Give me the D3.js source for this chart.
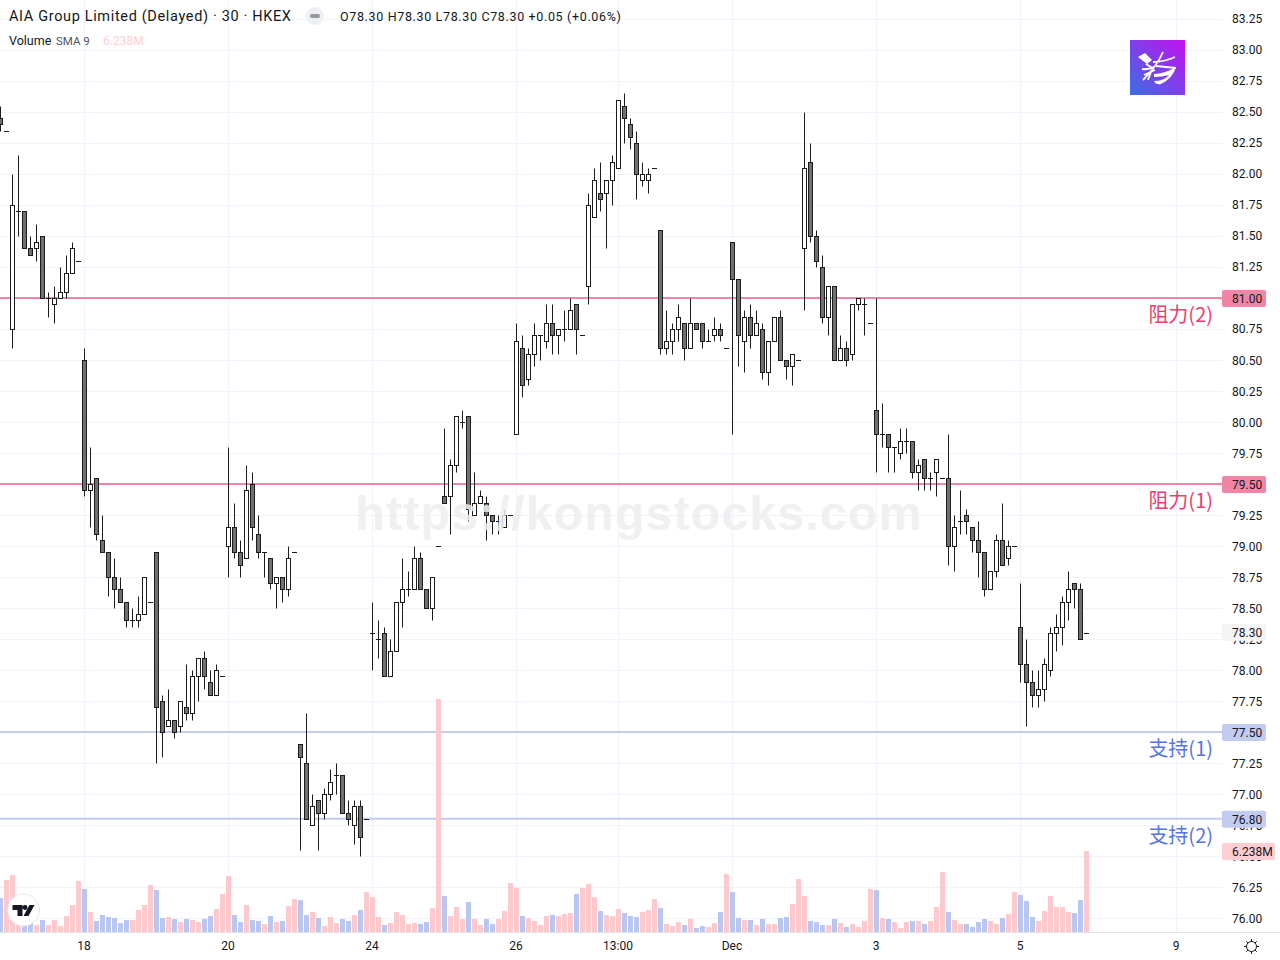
<!DOCTYPE html>
<html>
<head>
<meta charset="utf-8">
<script src="https://cdn.jsdelivr.net/npm/d3@7"></script>
<style>
    html, body { margin: 0; padding: 0; background: #fff; }
    svg { display: block; }
    text { font-family: Roboto, "Noto Sans", sans-serif; fill: #131722; }
</style>
</head>
<body>
<div id="chart"></div>
<script>
// one row per trading day, 30 min bars
const opens = [
    82.45,82.35,80.75,81.70,81.70,81.40,81.40,81.50,81.00,80.95,81.00,81.05,81.20,81.30,
    80.50,79.45,79.55,79.05,78.95,78.75,78.65,78.55,78.40,78.40,78.45,78.55,
    78.95,77.75,77.55,77.60,77.55,77.70,77.65,77.95,78.10,77.90,77.80,77.95,
    79.00,79.15,78.95,78.90,79.50,79.10,78.95,78.90,78.70,78.75,78.65,78.95,
    77.40,77.25,76.75,76.95,76.85,77.00,77.15,77.15,76.85,76.75,76.90,76.80,
    78.30,78.25,78.30,77.95,78.15,78.55,78.65,78.65,78.90,78.65,78.50,79.00,
    79.40,79.40,79.65,80.00,80.05,79.25,79.35,79.35,79.25,79.20,79.15,79.25,
    79.90,80.60,80.35,80.55,80.70,80.65,80.80,80.70,80.75,80.75,80.95,80.70,
    81.10,81.65,81.85,81.85,81.95,82.05,82.55,82.40,82.25,81.95,81.95,82.05,
    81.55,80.60,80.65,80.75,80.80,80.60,80.80,80.80,80.65,80.70,80.75,80.60,
    81.45,81.15,80.65,80.85,80.70,80.75,80.40,80.65,80.85,80.50,80.45,80.50,
    81.40,82.10,81.50,81.25,80.85,81.10,80.50,80.60,80.55,80.95,80.95,80.80,
    80.10,79.90,79.90,79.80,79.75,79.85,79.85,79.60,79.70,79.55,79.60,79.55,
    79.55,79.00,79.20,79.25,79.15,79.05,78.95,78.65,78.80,79.05,78.90,79.00,
    78.35,78.05,77.90,77.80,77.85,78.00,78.30,78.35,78.55,78.70,78.65,78.30
]
const highs = [
    82.55,82.35,82.00,82.15,81.70,81.50,81.60,81.50,81.05,81.10,81.25,81.35,81.45,81.30,
    80.60,79.80,79.55,79.25,78.95,78.90,78.75,78.55,78.50,78.60,78.75,78.55,
    78.95,77.80,77.85,77.60,77.75,78.05,78.00,78.10,78.15,78.00,78.05,77.95,
    79.80,79.35,79.05,79.65,79.60,79.25,78.95,78.90,78.75,78.75,79.00,78.95,
    77.40,77.65,77.00,76.95,77.05,77.20,77.25,77.15,76.95,76.95,76.95,76.80,
    78.55,78.40,78.35,78.25,78.55,78.90,78.80,79.00,78.95,78.65,78.75,79.00,
    79.95,79.70,80.05,80.10,80.05,79.60,79.45,79.40,79.25,79.25,79.30,79.25,
    80.80,80.70,80.60,80.80,80.70,80.95,80.95,80.75,80.90,81.00,80.95,80.70,
    81.85,82.05,82.10,81.95,82.15,82.60,82.65,82.45,82.35,82.10,82.05,82.05,
    81.55,80.90,80.80,80.95,80.80,81.00,80.80,80.80,80.75,80.85,80.80,80.60,
    81.45,81.15,80.90,80.95,80.90,80.80,80.65,80.85,80.90,80.50,80.55,80.50,
    82.50,82.25,81.55,81.35,81.10,81.10,80.70,80.65,80.95,81.00,81.00,80.80,
    81.00,80.15,79.90,79.80,79.95,79.95,79.85,79.70,79.70,79.60,79.70,79.55,
    79.90,79.25,79.45,79.30,79.15,79.20,78.95,78.80,79.10,79.35,79.05,79.00,
    78.70,78.25,78.00,78.00,78.10,78.35,78.45,78.60,78.80,78.70,78.70,78.30
]
const lows = [
    82.35,82.35,80.60,81.50,81.40,81.35,81.30,81.00,80.85,80.80,81.00,81.00,81.20,81.30,
    79.40,79.15,79.05,78.95,78.60,78.50,78.55,78.35,78.35,78.35,78.45,78.55,
    77.25,77.30,77.55,77.45,77.50,77.60,77.60,77.75,77.85,77.80,77.80,77.95,
    78.75,78.90,78.75,78.90,79.05,78.90,78.75,78.65,78.50,78.55,78.60,78.95,
    76.55,76.80,76.75,76.55,76.80,76.95,77.00,76.85,76.75,76.60,76.50,76.80,
    78.00,78.10,77.95,77.95,78.15,78.35,78.60,78.65,78.65,78.50,78.40,79.00,
    79.35,79.10,79.60,79.95,79.20,79.25,79.35,79.05,79.10,79.10,79.15,79.25,
    79.90,80.20,80.30,80.45,80.50,80.60,80.55,80.55,80.65,80.75,80.55,80.70,
    80.95,81.65,81.70,81.40,81.75,82.05,82.25,82.20,81.80,81.90,81.85,82.05,
    80.55,80.55,80.55,80.65,80.50,80.60,80.75,80.60,80.65,80.65,80.65,80.60,
    79.90,80.45,80.40,80.60,80.70,80.35,80.30,80.65,80.50,80.35,80.30,80.50,
    80.90,81.45,81.25,80.80,80.70,80.50,80.50,80.45,80.50,80.90,80.70,80.80,
    79.60,79.80,79.60,79.60,79.70,79.75,79.55,79.45,79.45,79.45,79.40,79.55,
    78.85,78.80,79.10,79.10,78.95,78.75,78.60,78.65,78.75,78.85,78.85,79.00,
    77.90,77.55,77.70,77.70,77.75,77.95,78.15,78.20,78.40,78.50,78.25,78.30
]
const closes = [
    82.40,82.35,81.75,81.70,81.40,81.35,81.45,81.00,81.00,81.00,81.05,81.20,81.40,81.30,
    79.45,79.50,79.10,78.95,78.75,78.65,78.55,78.40,78.40,78.45,78.75,78.55,
    77.70,77.50,77.60,77.50,77.75,77.65,77.95,78.10,77.95,77.80,78.00,77.95,
    79.15,78.95,78.85,79.45,79.15,78.95,78.95,78.70,78.75,78.65,78.90,78.95,
    77.30,76.80,76.90,76.85,77.00,77.10,77.15,76.85,76.80,76.90,76.65,76.80,
    78.30,78.25,77.95,78.15,78.55,78.65,78.65,78.90,78.65,78.50,78.75,79.00,
    79.35,79.65,80.05,80.00,79.30,79.35,79.40,79.25,79.20,79.20,79.25,79.25,
    80.65,80.30,80.55,80.70,80.70,80.80,80.70,80.75,80.75,80.90,80.75,80.70,
    81.75,81.95,81.80,81.95,82.10,82.60,82.45,82.30,82.00,82.00,82.00,82.05,
    80.60,80.65,80.75,80.85,80.60,80.80,80.75,80.65,80.65,80.75,80.70,80.60,
    81.15,80.70,80.85,80.70,80.80,80.40,80.65,80.85,80.50,80.45,80.55,80.50,
    82.05,81.50,81.30,80.85,81.10,80.50,80.60,80.50,80.95,81.00,80.95,80.80,
    79.90,79.90,79.80,79.80,79.85,79.85,79.60,79.65,79.55,79.55,79.70,79.55,
    79.00,79.15,79.20,79.20,79.05,78.95,78.65,78.80,79.05,78.85,79.00,79.00,
    78.05,77.90,77.80,77.85,78.05,78.30,78.35,78.55,78.65,78.65,78.25,78.30
]
// volume in millions
const volumes = [
    2.62,4.00,4.39,1.54,0.69,0.77,0.54,0.92,0.54,0.92,0.46,1.23,2.08,3.93,
    3.31,1.54,0.85,1.31,1.16,1.08,0.69,0.92,0.92,1.69,2.08,3.62,
    3.23,1.08,1.16,1.00,0.77,1.00,0.92,0.77,1.00,1.23,1.77,2.93,
    4.31,1.31,0.77,2.08,0.92,0.85,0.62,1.23,0.77,0.85,2.00,2.54,
    2.46,1.31,1.54,1.08,0.46,1.16,0.69,1.00,0.85,1.31,1.69,3.08,
    2.70,1.16,0.54,0.69,1.54,1.31,0.62,0.69,0.62,0.77,1.85,17.94,
    2.77,1.23,1.93,1.00,2.31,1.00,0.54,1.00,0.62,1.00,1.62,3.77,
    3.39,1.23,1.08,0.85,0.54,1.23,1.31,1.23,1.39,1.46,2.93,3.39,
    3.70,2.70,1.62,1.31,1.23,1.77,1.46,1.23,1.16,1.54,1.69,2.54,
    1.85,0.62,0.46,0.77,0.54,1.00,0.31,0.46,0.39,0.69,1.54,4.47,
    3.08,1.08,0.92,0.92,0.54,1.00,0.62,0.62,1.08,1.16,2.16,4.08,
    2.77,0.85,0.77,0.54,0.54,1.00,0.69,0.39,0.62,0.39,0.85,3.31,
    3.23,1.08,1.00,0.77,0.31,0.77,0.85,0.85,0.62,0.85,1.93,4.62,
    1.54,0.92,0.62,0.62,0.39,0.77,1.00,0.85,0.62,1.08,1.39,3.08,
    2.85,2.39,1.16,0.85,1.62,2.77,1.93,1.93,1.54,1.46,2.46,6.238
]

const priceTicks = d3.range(0, 30).map(k => 83.25 - k * 0.25)
const timeTickBars = [14, 38, 62, 86, 103, 122, 146, 170, 196]
const timeTickLabels = ["18", "20", "24", "26", "13:00", "Dec", "3", "5", "9"]

const levelPrices = [81.00, 79.50, 77.50, 76.80]
const levelNames = ["阻力(2)", "阻力(1)", "支持(1)", "支持(2)"]
const levelKinds = ["res", "res", "sup", "sup"]
const lastPrice = 78.30
const lastVolume = 6.238

const svgWidth = 1280, svgHeight = 960
const plotRight = 1222, plotBottom = 932

const colors = {
    grid: "#f0f3fa",
    axisLine: "#e0e3eb",
    text: "#131722",
    wick: "#1c1c1c",
    down: "#707070",
    up: "#ffffff",
    volUp: "#fdc9cd",
    volDown: "#b9c6f0",
    res: "#f285a6",
    sup: "#c2cbf0",
    resText: "#ef3b6e",
    supText: "#5674e2"
}

const svg = d3.select("#chart").append("svg")
    .attr("width", svgWidth)
    .attr("height", svgHeight)

// scales: one bar every 6px, 124px per 1.00 of price
const xScale = d3.scaleLinear().domain([0, 196]).range([0, 1176])
const yScale = d3.scaleLinear().domain([81, 76]).range([298, 918])
const volScale = d3.scaleLinear().domain([0, lastVolume]).range([plotBottom, 851])

const crisp = v => Math.round(v) + 0.5

// grid
svg.append("g").selectAll("line")
    .data(priceTicks)
    .join("line")
    .attr("x1", 0).attr("x2", plotRight)
    .attr("y1", d => crisp(yScale(d))).attr("y2", d => crisp(yScale(d)))
    .attr("stroke", colors.grid)

svg.append("g").selectAll("line")
    .data(timeTickBars)
    .join("line")
    .attr("x1", d => xScale(d) + 0.5).attr("x2", d => xScale(d) + 0.5)
    .attr("y1", 0).attr("y2", plotBottom)
    .attr("stroke", colors.grid)

// last price dotted line
svg.append("line")
    .attr("x1", 0).attr("x2", plotRight)
    .attr("y1", crisp(yScale(lastPrice))).attr("y2", crisp(yScale(lastPrice)))
    .attr("stroke", "#e4e6ea")
    .attr("stroke-dasharray", "1,3")

// support and resistance lines
svg.append("g").selectAll("line")
    .data(levelPrices)
    .join("line")
    .attr("x1", 0).attr("x2", plotRight)
    .attr("y1", d => yScale(d)).attr("y2", d => yScale(d))
    .attr("stroke", (d, i) => colors[levelKinds[i]])
    .attr("stroke-width", 2)

// volume bars
svg.append("g").selectAll("rect")
    .data(volumes)
    .join("rect")
    .attr("x", (d, i) => xScale(i) - 2)
    .attr("width", 5)
    .attr("y", d => volScale(d))
    .attr("height", d => plotBottom - volScale(d))
    .attr("fill", (d, i) => closes[i] >= opens[i] ? colors.volUp : colors.volDown)

// candles
const candles = svg.append("g").selectAll("g")
    .data(opens)
    .join("g")

candles.append("line")
    .attr("x1", (d, i) => xScale(i) + 0.5).attr("x2", (d, i) => xScale(i) + 0.5)
    .attr("y1", (d, i) => crisp(yScale(highs[i])))
    .attr("y2", (d, i) => crisp(yScale(lows[i])))
    .attr("stroke", colors.wick)

// flat bodies are a plain dash, a zero height rect would not show
candles.each(function(d, i) {
    const top = crisp(yScale(Math.max(opens[i], closes[i])))
    const bottom = crisp(yScale(Math.min(opens[i], closes[i])))
    const g = d3.select(this)
    if (top === bottom) {
        g.append("line")
            .attr("x1", xScale(i) - 2).attr("x2", xScale(i) + 3)
            .attr("y1", top).attr("y2", top)
            .attr("stroke", colors.wick)
    } else {
        g.append("rect")
            .attr("x", xScale(i) - 1.5)
            .attr("width", 4)
            .attr("y", top)
            .attr("height", bottom - top)
            .attr("fill", closes[i] < opens[i] ? colors.down : colors.up)
            .attr("stroke", colors.wick)
    }
})

// watermark sits over the candles
svg.append("text")
    .attr("x", 639).attr("y", 530)
    .attr("text-anchor", "middle")
    .style("font-family", '"Liberation Sans", Arial, sans-serif')
    .style("font-weight", "bold")
    .style("font-size", "48px")
    .style("letter-spacing", "1.3px")
    .style("fill", "#eeeeee")
    .style("opacity", 0.85)
    .text("https://kongstocks.com")

// level names
svg.append("g").selectAll("text")
    .data(levelNames)
    .join("text")
    .attr("x", 1213)
    .attr("y", (d, i) => yScale(levelPrices[i]) + 24)
    .attr("text-anchor", "end")
    .style("font-family", '"Noto Sans CJK SC", sans-serif')
    .style("font-size", "20px")
    .style("fill", (d, i) => levelKinds[i] === "res" ? colors.resText : colors.supText)
    .text(d => d)

// price axis
const yAxis = d3.axisRight(yScale)
    .tickValues(priceTicks)
    .tickSize(0)
    .tickPadding(10)
    .tickFormat(d3.format(".2f"))

const yAxisGroup = svg.append("g")
    .attr("transform", `translate(${plotRight}, 0.5)`)
    .call(yAxis)
yAxisGroup.select(".domain").remove()
yAxisGroup.selectAll("text")
    .attr("y", d => d > 80.6 ? -1 : 0)
    .style("font-family", "Roboto, sans-serif")
    .style("font-size", "12px")
    .style("fill", colors.text)

// time axis
const xAxis = d3.axisBottom(xScale)
    .tickValues(timeTickBars)
    .tickSize(0)
    .tickPadding(9)
    .tickFormat((d, i) => timeTickLabels[i])

const xAxisGroup = svg.append("g")
    .attr("transform", `translate(-0.5, ${plotBottom})`)
    .call(xAxis)
xAxisGroup.select(".domain").remove()
xAxisGroup.selectAll("text")
    .style("font-family", "Roboto, sans-serif")
    .style("font-size", "12px")
    .style("fill", colors.text)

svg.append("line")
    .attr("x1", 0).attr("x2", svgWidth)
    .attr("y1", plotBottom + 0.5).attr("y2", plotBottom + 0.5)
    .attr("stroke", colors.axisLine)

// price labels on the axis
function axisLabel(yPos, width, fill, label) {
    const g = svg.append("g")
    g.append("rect")
        .attr("x", plotRight).attr("y", yPos - 8.5)
        .attr("width", width).attr("height", 17)
        .attr("rx", 2)
        .attr("fill", fill)
    g.append("text")
        .attr("x", plotRight + 10).attr("y", yPos)
        .attr("dy", "0.36em")
        .style("font-size", "12px")
        .text(label)
}
levelPrices.forEach((p, i) => axisLabel(yScale(p) + 0.5, 44, colors[levelKinds[i]], p.toFixed(2)))
axisLabel(yScale(lastPrice) - 0.5, 44, "#f5f5f5", lastPrice.toFixed(2))
axisLabel(851.5, 53, "#ffcdd2", lastVolume.toFixed(3) + "M")

// legend
svg.append("text")
    .attr("x", 9).attr("y", 21)
    .style("font-size", "14.5px")
    .style("letter-spacing", "0.65px")
    .text("AIA Group Limited (Delayed) · 30 · HKEX")

svg.append("circle")
    .attr("cx", 315).attr("cy", 16).attr("r", 9).attr("fill", "#eff0f3")
svg.append("rect")
    .attr("x", 310).attr("y", 14).attr("width", 10).attr("height", 4).attr("rx", 2)
    .attr("fill", "#9598a1")

svg.append("text")
    .attr("x", 340).attr("y", 21)
    .style("font-size", "12.5px")
    .style("letter-spacing", "0.65px")
    .text("O78.30 H78.30 L78.30 C78.30 +0.05 (+0.06%)")

svg.append("text")
    .attr("x", 9).attr("y", 45)
    .style("font-size", "12.5px")
    .text("Volume")
svg.append("text")
    .attr("x", 56).attr("y", 45)
    .style("font-size", "11.5px")
    .style("fill", "#50535e")
    .text("SMA 9")
svg.append("text")
    .attr("x", 103).attr("y", 45)
    .style("font-size", "12px")
    .style("fill", "#ffcdd2")
    .text("6.238M")

// site logo
const grad = svg.append("defs").append("linearGradient")
    .attr("id", "logoGrad")
    .attr("x1", "0").attr("y1", "1").attr("x2", "1").attr("y2", "0")
grad.append("stop").attr("offset", "0").attr("stop-color", "#3a6fe2")
grad.append("stop").attr("offset", "1").attr("stop-color", "#c40ff0")

const logo = svg.append("g").attr("transform", "translate(1130, 40)")
logo.append("rect").attr("width", 55).attr("height", 55).attr("fill", "url(#logoGrad)")
logo.append("path")
    .attr("d", "M8 17 L15 13 L22 20 L17 24 Z M24 34 Q34 34 46 27 Q43 38 31 44 Q26 45 24 41 Q34 41 39 35 Q32 37 24 37 Z")
    .attr("fill", "#fff")
logo.append("path")
    .attr("d", "M33 12 Q27 26 13 40 M23 22 Q34 22 45 17 M26 26 Q36 27 46 28 M12 29 Q18 30 24 27 M14 35 L25 30 M18 40 L21 32 M16 24 L24 29")
    .attr("fill", "none")
    .attr("stroke", "#fff")
    .attr("stroke-width", 1.8)

// tradingview badge
const badge = svg.append("g").attr("transform", "translate(23.5, 910)")
badge.append("circle").attr("r", 16).attr("fill", "#fff").attr("stroke", "#e8e8ea")
badge.append("path")
    .attr("d", "M-11 -5 H-1 V6 H-6 V0 H-11 Z M4 -2.5 A2.5 2.5 0 1 1 4 -2.6 Z M6 -5 H11 L5 6 H0 Z")
    .attr("fill", "#131722")

// settings icon
const gear = svg.append("g").attr("transform", "translate(1251.5, 946.5)")
gear.append("circle").attr("r", 5).attr("fill", "none").attr("stroke", colors.text)
gear.selectAll("line")
    .data(d3.range(8))
    .join("line")
    .attr("x1", d => 5 * Math.cos(d * Math.PI / 4)).attr("y1", d => 5 * Math.sin(d * Math.PI / 4))
    .attr("x2", d => 7.5 * Math.cos(d * Math.PI / 4)).attr("y2", d => 7.5 * Math.sin(d * Math.PI / 4))
    .attr("stroke", colors.text)
</script>
</body>
</html>
